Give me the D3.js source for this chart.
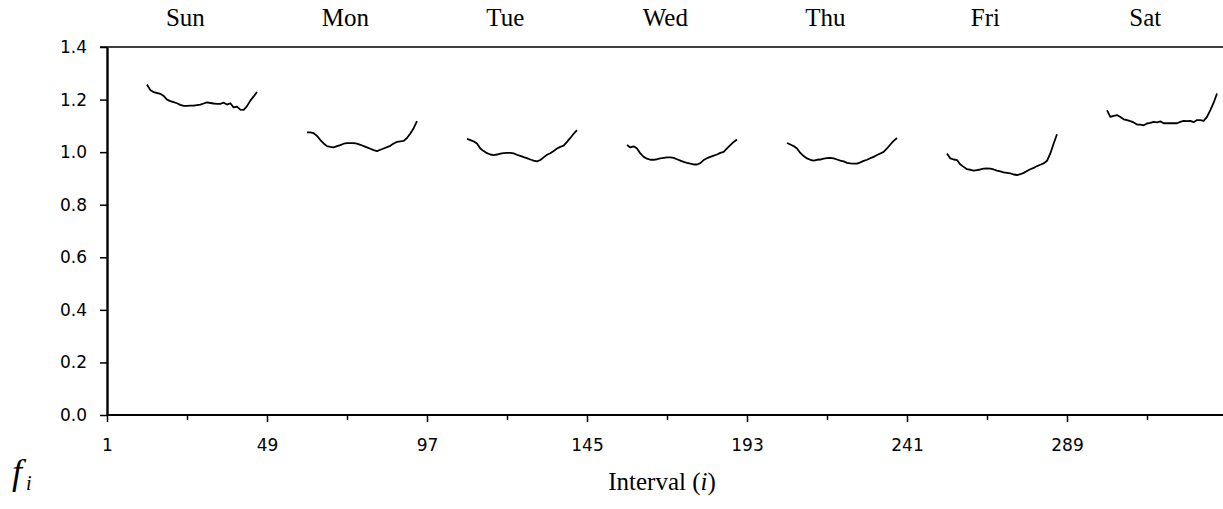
<html>
<head>
<title>interval factors</title>
<script src="https://cdnjs.cloudflare.com/ajax/libs/d3/7.8.5/d3.min.js"></script>
<style>
  body { margin: 0; background: #fff; }
  .serif { font-family: "Liberation Serif", "Times New Roman", serif; fill: #000; }
</style>
</head>
<body>
<div id="vis_container"></div>
<script>

    // day names, first interval of each day's curve (relative to day start), tick values
    var days = ["Sun", "Mon", "Tue", "Wed", "Thu", "Fri", "Sat"];
    var firstInterval = 13;
    var xTicks = [1, 49, 97, 145, 193, 241, 289];
    var xMinorTicks = [25, 73, 121, 169, 217, 265, 313];
    var yTicks = [0.0, 0.2, 0.4, 0.6, 0.8, 1.0, 1.2, 1.4];

    // f_i values, one array per day
    var sun = [1.257, 1.236, 1.228, 1.225, 1.222, 1.214, 1.200, 1.194, 1.190, 1.186, 1.180, 1.176,
               1.176, 1.177, 1.177, 1.179, 1.181, 1.185, 1.189, 1.187, 1.185, 1.184, 1.184, 1.188,
               1.181, 1.186, 1.170, 1.173, 1.162, 1.161, 1.175, 1.196, 1.212, 1.229];
    var mon = [1.075, 1.075, 1.072, 1.062, 1.046, 1.033, 1.023, 1.020, 1.018, 1.023, 1.027, 1.032,
               1.034, 1.034, 1.034, 1.032, 1.028, 1.023, 1.018, 1.013, 1.008, 1.004, 1.009, 1.014,
               1.019, 1.024, 1.033, 1.039, 1.041, 1.043, 1.054, 1.071, 1.091, 1.118];
    var tue = [1.051, 1.046, 1.041, 1.033, 1.014, 1.004, 0.996, 0.991, 0.989, 0.991, 0.994, 0.996,
               0.997, 0.997, 0.995, 0.990, 0.986, 0.981, 0.977, 0.972, 0.968, 0.965, 0.970, 0.980,
               0.990, 0.996, 1.004, 1.014, 1.020, 1.025, 1.039, 1.054, 1.070, 1.084];
    var wed = [1.027, 1.018, 1.022, 1.014, 0.995, 0.982, 0.975, 0.971, 0.971, 0.973, 0.976, 0.978,
               0.980, 0.980, 0.978, 0.973, 0.968, 0.963, 0.959, 0.956, 0.953, 0.953, 0.958, 0.970,
               0.977, 0.982, 0.987, 0.991, 0.997, 1.001, 1.014, 1.027, 1.039, 1.048];
    var thu = [1.035, 1.029, 1.023, 1.014, 0.997, 0.985, 0.976, 0.971, 0.968, 0.971, 0.972, 0.975,
               0.977, 0.978, 0.976, 0.972, 0.968, 0.965, 0.959, 0.957, 0.956, 0.956, 0.961, 0.967,
               0.971, 0.977, 0.982, 0.989, 0.995, 1.001, 1.014, 1.029, 1.043, 1.054];
    var fri = [0.995, 0.976, 0.972, 0.970, 0.953, 0.944, 0.935, 0.933, 0.930, 0.932, 0.934, 0.937,
               0.938, 0.937, 0.934, 0.930, 0.927, 0.923, 0.921, 0.919, 0.915, 0.913, 0.916, 0.921,
               0.928, 0.935, 0.940, 0.947, 0.952, 0.957, 0.967, 0.995, 1.033, 1.068];
    var sat = [1.160, 1.134, 1.138, 1.141, 1.134, 1.125, 1.122, 1.118, 1.113, 1.105, 1.105, 1.102,
               1.109, 1.111, 1.115, 1.113, 1.117, 1.110, 1.110, 1.110, 1.110, 1.110, 1.115, 1.119,
               1.118, 1.119, 1.114, 1.122, 1.122, 1.119, 1.134, 1.160, 1.188, 1.223];
    var series = [sun, mon, tue, wed, thu, fri, sat];

    var width = 1223;
    var height = 509;
    var plotLeft = 107, plotTop = 47, plotBottom = 415;

    var svg = d3.select("#vis_container")
                    .append("svg")
                    .attr("width", width)
                    .attr("height", height);

    var x = d3.scaleLinear()
        .domain([1, 289])
        .range([plotLeft, 1067]);

    var y = d3.scaleLinear()
        .domain([0, 1.4])
        .range([plotBottom, plotTop]);

    // top border
    svg.append("line")
        .attr("x1", plotLeft - 7).attr("x2", width)
        .attr("y1", y(1.4)).attr("y2", y(1.4))
        .attr("stroke", "#000")
        .attr("stroke-width", 1.5);

    // y axis
    var yAxis = svg.append("g")
        .attr("transform", "translate(" + plotLeft + ",0)")
        .call(d3.axisLeft(y).tickValues(yTicks).tickFormat(d3.format(".1f")).tickSize(7).tickSizeOuter(0).tickPadding(13));
    yAxis.select(".domain").attr("stroke-width", 2.4);
    yAxis.selectAll(".tick line").attr("stroke-width", 1.5);

    // x axis, minor ticks first then the labelled ones
    var xMinor = svg.append("g")
        .attr("transform", "translate(0," + plotBottom + ")")
        .call(d3.axisBottom(x).tickValues(xMinorTicks).tickFormat("").tickSize(5).tickSizeOuter(0));
    xMinor.select(".domain").remove();
    xMinor.selectAll(".tick line").attr("stroke-width", 1.5);

    var xAxis = svg.append("g")
        .attr("transform", "translate(0," + plotBottom + ")")
        .call(d3.axisBottom(x).tickValues(xTicks).tickSize(7).tickSizeOuter(0).tickPadding(17));
    xAxis.select(".domain")
        .attr("d", "M" + plotLeft + ",0H" + width)
        .attr("stroke-width", 2.2);
    xAxis.selectAll(".tick line").attr("stroke-width", 1.5);

    svg.selectAll(".tick text")
        .style("font-family", "'DejaVu Sans', sans-serif")
        .style("font-size", "17px")
        .attr("fill", "#000");

    // one curve per day
    var line = d3.line()
        .x(function(d) { return x(d[0]); })
        .y(function(d) { return y(d[1]); });

    series.forEach(function(vals, k) {
        var pts = vals.map(function(v, j) { return [48 * k + firstInterval + j, v]; });
        svg.append("path")
            .datum(pts)
            .attr("d", line)
            .attr("fill", "none")
            .attr("stroke", "#000")
            .attr("stroke-width", 1.8)
            .attr("stroke-linejoin", "round");
    });

    // day names above the plot
    svg.selectAll(".dayname")
        .data(days)
        .enter().append("text")
        .attr("class", "serif dayname")
        .attr("x", function(d, k) { return x(48 * k + 24.5); })
        .attr("y", 26)
        .attr("text-anchor", "middle")
        .style("font-size", "25px")
        .text(function(d) { return d; });

    // axis titles
    var xt = svg.append("text")
        .attr("class", "serif")
        .attr("x", 662)
        .attr("y", 490)
        .attr("text-anchor", "middle")
        .style("font-size", "25px");
    xt.append("tspan").text("Interval (");
    xt.append("tspan").style("font-style", "italic").text("i");
    xt.append("tspan").text(")");

    var yt = svg.append("text")
        .attr("class", "serif")
        .attr("x", 12)
        .attr("y", 484)
        .style("font-style", "italic")
        .style("font-size", "36px");
    yt.append("tspan").text("f");
    yt.append("tspan").attr("dx", 4).attr("dy", 6).style("font-size", "20px").text("i");

</script>
</body>
</html>
